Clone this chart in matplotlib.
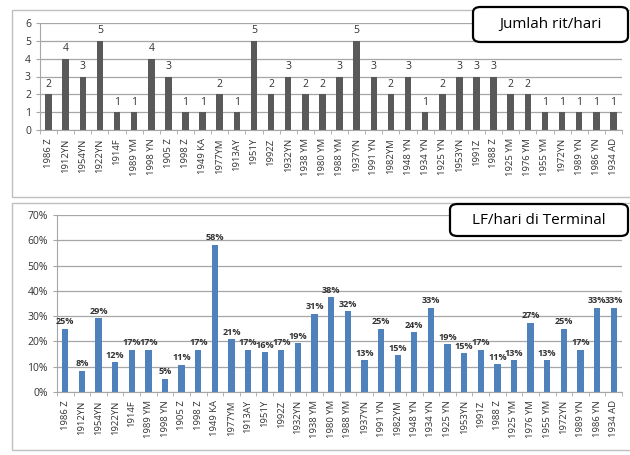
"""
plot.py - two stacked Excel-style bar charts: trips per day (top) and
load factor per day at the terminal (bottom), per vehicle.
"""

import numpy as np
import matplotlib
matplotlib.use("Agg")
import matplotlib.pyplot as plt
from matplotlib.patches import Rectangle, FancyBboxPatch

vehicles = ["1986 Z", "1912YN", "1954YN", "1922YN", "1914F", "1989 YM", "1998 YN",
            "1905 Z", "1998 Z", "1949 KA", "1977YM", "1913AY", "1951Y", "1992Z",
            "1932YN", "1938 YM", "1980 YM", "1988 YM", "1937YN", "1991 YN", "1982YM",
            "1948 YN", "1934 YN", "1925 YN", "1953YN", "1991Z", "1988 Z", "1925 YM",
            "1976 YM", "1955 YM", "1972YN", "1989 YN", "1986 YN", "1934 AD"]

trips_per_day = [2, 4, 3, 5, 1, 1, 4, 3, 1, 1, 2, 1, 5, 2, 3, 2, 2, 3, 5, 3, 2, 3,
                 1, 2, 3, 3, 3, 2, 2, 1, 1, 1, 1, 1]

# load factor per day (%)
load_factor = [25.0, 8.3, 29.2, 11.7, 16.7, 16.7, 5.2, 10.8, 16.7, 58.3, 20.8, 16.7,
               15.8, 16.7, 19.2, 31.0, 37.5, 32.0, 12.5, 25.0, 14.6, 23.6, 33.3, 18.8,
               15.4, 16.7, 11.0, 12.5, 27.3, 12.5, 25.0, 16.7, 33.3, 33.3]

FONT = ["Open Sans", "DejaVu Sans"]
GRID = "#a6a6a6"
plt.rcParams["font.family"] = FONT


def style_axes(ax, n):
    x = np.arange(n)
    ax.set_xlim(-0.5, n - 0.5)
    ax.set_xticks(x)
    ax.set_xticklabels(vehicles, rotation=90, fontsize=6.8, color="#333333")
    ax.tick_params(axis="x", length=0, pad=6)
    ax.set_xticks(np.arange(n + 1) - 0.5, minor=True)
    ax.tick_params(axis="x", which="minor", length=3, color=GRID, direction="out")
    ax.tick_params(axis="y", length=3, color=GRID, labelsize=7.5, labelcolor="#333333")
    ax.yaxis.grid(True, color=GRID, linewidth=0.9)
    ax.set_axisbelow(True)
    for side in ("top", "right"):
        ax.spines[side].set_visible(False)
    for side in ("left", "bottom"):
        ax.spines[side].set_color(GRID)


def title_box(fig, x0, y0, w, h, text):
    W, H = fig.get_size_inches() * fig.dpi
    box = FancyBboxPatch((x0 / W, 1 - (y0 + h) / H), w / W, h / H,
                         boxstyle="round,pad=0,rounding_size=0.012",
                         transform=fig.transFigure, facecolor="white",
                         edgecolor="black", linewidth=1.6, zorder=10)
    fig.patches.append(box)
    fig.text((x0 + w / 2) / W, 1 - (y0 + h / 2) / H, text, ha="center", va="center",
             fontsize=11, zorder=11)


def main():
    fig = plt.figure(figsize=(6.3, 4.55), dpi=100)
    W, H = 630, 455

    # outer chart frames
    for (x0, y0, x1, y1) in [(12, 10, 640, 197), (12, 203, 640, 450)]:
        fig.patches.append(Rectangle((x0 / W, 1 - y1 / H), (x1 - x0) / W, (y1 - y0) / H,
                                     transform=fig.transFigure, facecolor="none",
                                     edgecolor="#bfbfbf", linewidth=1.0))

    n = len(vehicles)
    x = np.arange(n)

    ax1 = fig.add_axes([40 / W, 1 - 130 / H, 582 / W, 107 / H])
    ax1.bar(x, trips_per_day, width=0.38, color="#595959")
    ax1.set_ylim(0, 6)
    ax1.set_yticks(range(7))
    style_axes(ax1, n)
    for xi, v in zip(x, trips_per_day):
        ax1.text(xi, v + 0.25, f"{v}", ha="center", va="bottom", fontsize=7.5,
                 color="#333333")

    ax2 = fig.add_axes([57 / W, 1 - 392 / H, 565 / W, 177 / H])
    ax2.bar(x, load_factor, width=0.38, color="#4f81bd")
    ax2.set_ylim(0, 70)
    ax2.set_yticks(range(0, 71, 10))
    ax2.set_yticklabels([f"{t}%" for t in range(0, 71, 10)])
    style_axes(ax2, n)
    for xi, v in zip(x, load_factor):
        ax2.text(xi, v + 1.0, f"{int(v + 0.5)}%", ha="center", va="bottom", fontsize=6.6,
                 fontweight="bold", color="#333333")

    title_box(fig, 473, 7, 155, 35, "Jumlah rit/hari")
    title_box(fig, 450, 204, 178, 32, "LF/hari di Terminal")

    fig.savefig("out.png", dpi=100)
    plt.close(fig)


if __name__ == "__main__":
    main()
